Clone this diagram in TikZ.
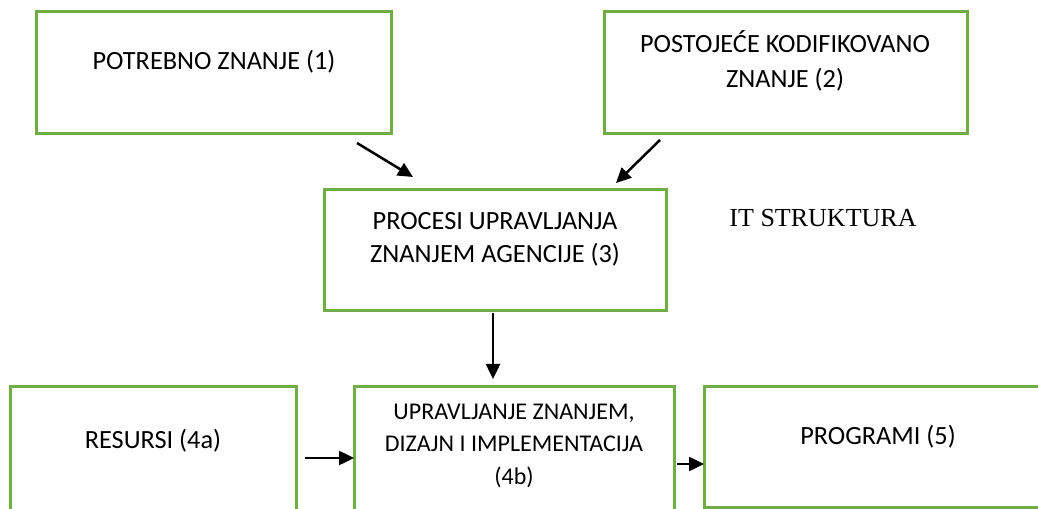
\documentclass[tikz,border=0pt]{standalone}
\usepackage{fontspec}
\setmainfont{Carlito}
\newfontfamily\timesf{Liberation Serif}
\usetikzlibrary{arrows.meta}
\definecolor{boxgreen}{HTML}{70AD47}
\tikzset{
  box/.style={draw=boxgreen, line width=3bp, fill=none, inner sep=0pt},
  lbl/.style={inner sep=0pt, align=center, anchor=base, font=\fontsize{26.3bp}{35bp}\selectfont},
  lblb/.style={inner sep=0pt, align=center, anchor=base, font=\fontsize{26.3bp}{33bp}\selectfont},
  slbl/.style={inner sep=0pt, align=center, anchor=base, font=\fontsize{24bp}{32.5bp}\selectfont},
  arr/.style={-{Triangle[length=15bp,width=14bp]}, line width=2.5bp, black},
}
\begin{document}
\begin{tikzpicture}[x=1bp,y=-1bp]
\clip (0,0) rectangle (1038,509);
% boxes
\draw[box] (36,12) rectangle (391,134);
\draw[box] (604,12) rectangle (967,134);
\draw[box] (324,190) rectangle (666,311);
\draw[box] (10,386) rectangle (296,530);
\draw[box] (354,386) rectangle (674,530);
\draw[box] (704,386) rectangle (1060,507);
% texts (anchor base = baseline of the last line)
\node[lbl] (t1) at (214,70) {POTREBNO ZNANJE (1)};
\node[lbl] (t2) at (785,88) {POSTOJEĆE KODIFIKOVANO\\ZNANJE (2)};
\node[lblb] (t3) at (495,263) {PROCESI UPRAVLJANJA\\ZNANJEM AGENCIJE (3)};
\node[lbl] (t4a) at (153,448) {RESURSI (4a)};
\node[slbl] (t4b) at (514,484) {UPRAVLJANJE ZNANJEM,\\DIZAJN I IMPLEMENTACIJA\\(4b)};
\node[lbl] (t5) at (878,444) {PROGRAMI (5)};
\node[inner sep=0pt, anchor=base, font=\timesf\fontsize{26bp}{30bp}\selectfont] (it) at (823,227) {IT STRUKTURA};
% connector ends
\coordinate (a1s) at (357,143);
\coordinate (a1e) at (413,177);
\coordinate (a2s) at (660,140);
\coordinate (a2e) at (616,183);
\coordinate (a3s) at (493,313);
\coordinate (a3e) at (493,379);
\coordinate (a4s) at (305,458);
\coordinate (a4e) at (354,458);
\coordinate (a5s) at (677,464);
\coordinate (a5e) at (704,464);
\draw[arr] (a1s) -- (a1e);
\draw[arr] (a2s) -- (a2e);
\draw[arr] (a3s) -- (a3e);
\draw[arr] (a4s) -- (a4e);
\draw[arr] (a5s) -- (a5e);
\end{tikzpicture}
\end{document}
